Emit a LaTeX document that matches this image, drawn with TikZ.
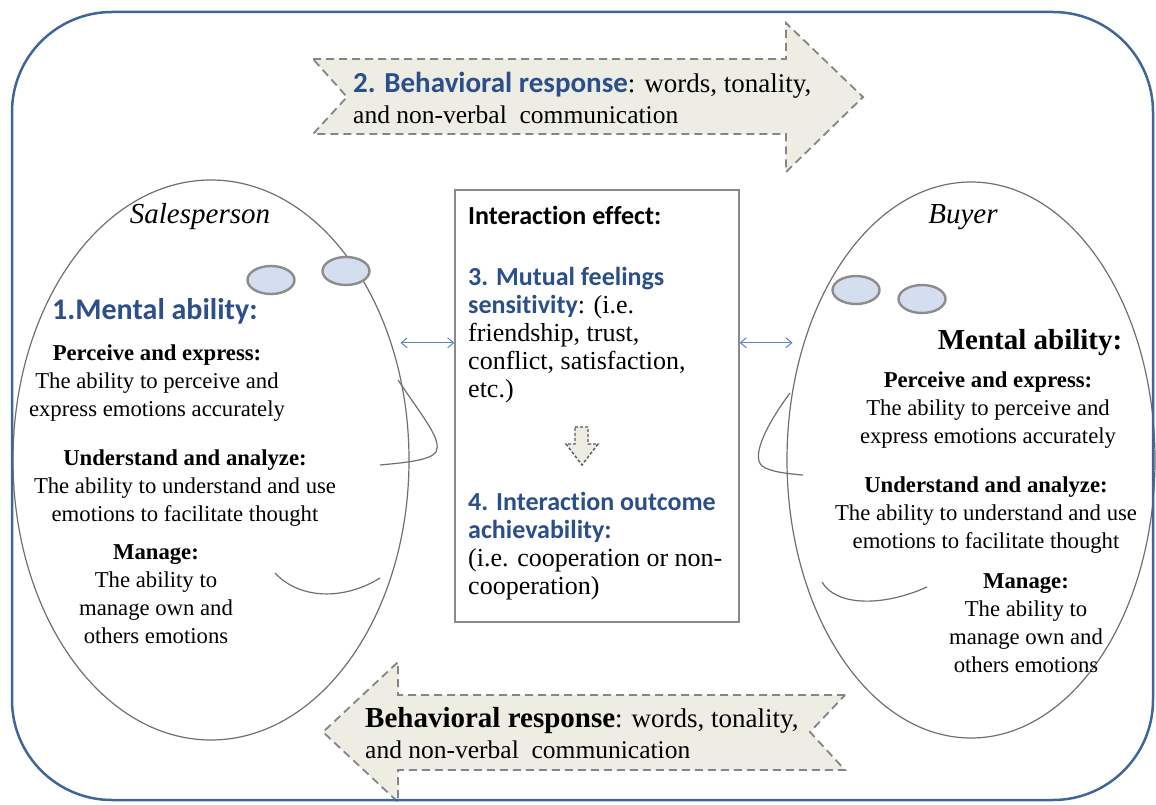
\documentclass[tikz,border=0pt]{standalone}
\usepackage{fontspec}
\setmainfont{Liberation Serif}
\newfontfamily\carlito[Ligatures=NoCommon]{Carlito}
\usepackage{xcolor}
\usepackage{tikz}
\usetikzlibrary{arrows.meta, positioning, calc, shapes.geometric}
\definecolor{FrameBlue}{HTML}{3E6699}
\definecolor{HeadBlue}{HTML}{2B4F8A}
\definecolor{FaceGrey}{HTML}{707070}
\definecolor{EyeBlue}{HTML}{D4DEEE}
\definecolor{EyeRim}{HTML}{8C8C8C}
\definecolor{DashGrey}{HTML}{858585}
\definecolor{ArrowFill}{HTML}{EDEDE4}
\definecolor{LinkBlue}{HTML}{5B86C4}
\definecolor{BoxGrey}{HTML}{8A8A8A}
\newcommand{\bluehead}[1]{{\carlito\bfseries\color{HeadBlue}#1}}
\tikzset{
  face node/.style={ellipse, draw=FaceGrey, line width=1.2pt, inner sep=0pt},
  eye node/.style={ellipse, draw=EyeRim, fill=EyeBlue, line width=2.4pt,
                   minimum width=47pt, minimum height=28pt, inner sep=0pt},
  resp arrow/.style={draw=DashGrey, fill=ArrowFill, line width=1.8pt,
                     dash pattern=on 8pt off 5pt},
  box node/.style={rectangle, draw=BoxGrey, line width=1.2pt, inner sep=0pt},
  skill text/.style={inner sep=0pt, align=center, font=\fontsize{22.7}{28}\selectfont},
  box text/.style={inner sep=0pt, align=left, anchor=west,
                   font=\fontsize{26}{28}\selectfont},
  resp text/.style={inner sep=0pt, align=left, anchor=west,
                    font=\fontsize{25.5}{31}\selectfont},
  who text/.style={inner sep=0pt, font=\fontsize{29}{30}\selectfont\itshape},
  face line/.style={draw=FaceGrey, line width=1.2pt},
  link edge/.style={{Straight Barb[length=6pt, width=10pt]}-{Straight Barb[length=6pt, width=10pt]},
                    draw=LinkBlue, line width=1pt},
}
\begin{document}
\begin{tikzpicture}[x=1pt, y=-1pt]
  \useasboundingbox[fill=white] (0,0) rectangle (1156,805);
  \draw[resp arrow] (313,59) -- (786,59) -- (786,23) -- (863,97) -- (786,172)
    -- (786,134) -- (313,134) -- (347,97) -- cycle;
  \draw[resp arrow] (845,695) -- (398,695) -- (398,662) -- (323,732) -- (398,802)
    -- (398,770) -- (845,770) -- (810,732) -- cycle;
  \node[resp text] (resp2) at (353,98)
    {{\fontsize{27}{31}\selectfont\bluehead{\fontsize{29}{31}\selectfont 2. Behavioral response}: words,\ tonality,}\\and non-verbal\ \ communication};
  \node[resp text] (resp1) at (365,733)
    {{\fontsize{27}{31}\selectfont{\fontsize{29}{31}\selectfont\bfseries Behavioral response}: words,\ tonality,}\\and non-verbal\ \ communication};

  \node[face node, minimum width=396pt, minimum height=560pt] (sales) at (211,460) {};
  \node[face node, minimum width=368pt, minimum height=556pt] (buyer) at (971,460) {};
  \node[eye node] (salesEyeA) at (271,280) {};
  \node[eye node] (salesEyeB) at (346,271) {};
  \node[eye node] (buyerEyeA) at (856,290) {};
  \node[eye node] (buyerEyeB) at (922,299) {};
  \node[who text] (salesName) at (200,217) {Salesperson};
  \node[who text] (buyerName) at (963,217) {Buyer};
  \node[inner sep=0pt, anchor=west, font=\fontsize{30}{31}\selectfont] (salesMental)
    at (52,311) {\bluehead{1.Mental ability:}};
  \node[inner sep=0pt, font=\fontsize{29}{30}\selectfont\bfseries] (buyerMental)
    at (1030,343) {Mental ability:};
  \node[skill text] (salesPE) at (157,383)
    {\textbf{Perceive and express:}\\The ability to perceive and\\express emotions accurately};
  \node[skill text] (salesUA) at (185,488)
    {\textbf{Understand and analyze:}\\The ability to understand and use\\emotions to facilitate thought};
  \node[skill text] (salesMG) at (156,594)
    {\textbf{Manage:}\\The ability to\\manage own and\\others emotions};
  \node[skill text] (buyerPE) at (988,410)
    {\textbf{Perceive and express:}\\The ability to perceive and\\express emotions accurately};
  \node[skill text] (buyerUA) at (986,515)
    {\textbf{Understand and analyze:}\\The ability to understand and use\\emotions to facilitate thought};
  \node[skill text] (buyerMG) at (1026,623)
    {\textbf{Manage:}\\The ability to\\manage own and\\others emotions};
  \draw[face line] (398,380) .. controls (425,420) and (442,440) .. (436,452)
    .. controls (430,461) and (400,463) .. (380,465);
  \draw[face line] (275,573) .. controls (300,600) and (345,600) .. (380,578);
  \draw[face line] (790,393) .. controls (770,420) and (750,455) .. (762,466)
    .. controls (770,472) and (790,474) .. (803,475);
  \draw[face line] (822,582) .. controls (835,605) and (880,608) .. (927,587);

  \node[box node, minimum width=284pt, minimum height=432pt] (box) at (597,406) {};
  \node[box text] (effect) at (468,215) {{\carlito\bfseries Interaction effect:}};
  \node[box text] (mutual) at (468,335)
    {\bluehead{3. Mutual feelings}\\\bluehead{sensitivity}: (i.e.\\friendship, trust,\\conflict, satisfaction,\\etc.)};
  \node[box text] (outcome) at (468,546)
    {\bluehead{4. Interaction outcome}\\\bluehead{achievability:}\\(i.e. cooperation\ or non-\\cooperation)};
  \draw[resp arrow, draw=black!65, line width=1.4pt, dash pattern=on 3pt off 2pt] (575,427)
    -- (588,427) -- (588,444) -- (598,444) -- (582,465) -- (566,444) -- (575,444) -- cycle;
  \draw[link edge, shorten <=9pt] (sales.33) -- (sales.33 -| box.west);
  \draw[link edge, shorten >=11pt] (buyer.145 -| box.east) -- (buyer.145);

  \draw[FrameBlue, line width=2.5pt, rounded corners=100pt] (12,12) rectangle (1153,800);
\end{tikzpicture}
\end{document}
